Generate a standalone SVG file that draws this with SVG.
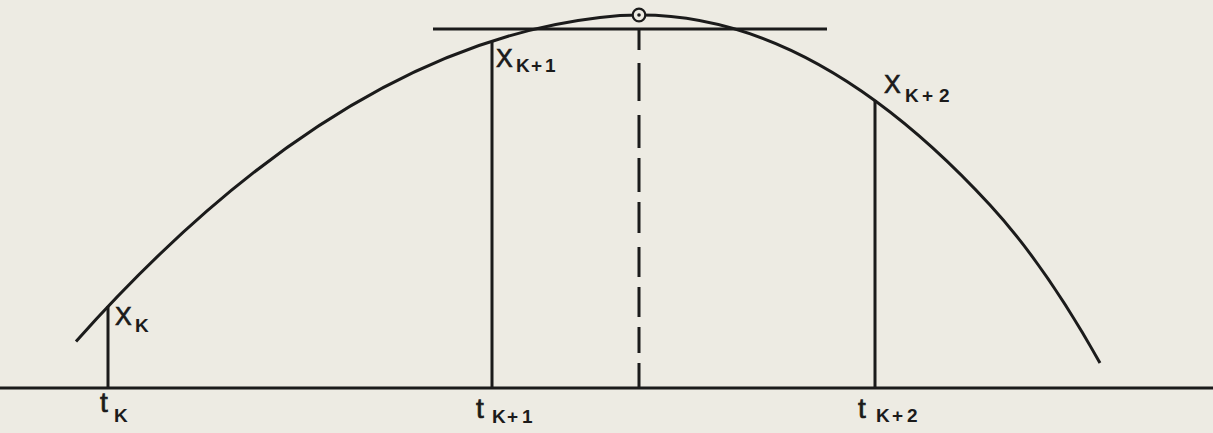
<svg xmlns="http://www.w3.org/2000/svg" width="1213" height="433" viewBox="0 0 1213 433">
<style>
.ln{stroke:#1b1b1b;stroke-width:3;fill:none;stroke-linecap:butt}
.big{font-family:"Liberation Sans",Arial,sans-serif;font-size:25px;fill:#1b1b1b;stroke:#1b1b1b;stroke-width:0.7}
.tt{font-family:"Liberation Sans",Arial,sans-serif;font-size:28px;fill:#1b1b1b;stroke:#1b1b1b;stroke-width:0.7}
.sub{font-family:"Liberation Sans",Arial,sans-serif;font-size:19px;fill:#1b1b1b;font-weight:bold}
</style>
<rect width="1213" height="433" fill="#edebe3"/>
<g id="axis"><line class="ln" x1="0" y1="388" x2="1213" y2="388" stroke-width="3.5"/></g>
<g id="curve"><path class="ln" d="M76,341.4 Q338,47.6 600,17.5 Q795,-6.7 990,205 Q1045,264.7 1100,363"/></g>
<g id="tangent"><line class="ln" x1="433" y1="29" x2="827" y2="29"/></g>
<g id="peak"><circle cx="639" cy="15" r="6.3" fill="#edebe3" stroke="#1b1b1b" stroke-width="2.2"/><circle cx="639" cy="15" r="1.8" fill="#1b1b1b"/></g>
<g id="connectors">
<line class="ln" x1="108" y1="306" x2="108" y2="388"/>
<line class="ln" x1="492" y1="41" x2="492" y2="388"/>
<line class="ln" x1="875" y1="100" x2="875" y2="388"/>
<path class="ln" d="M639,29V50M639,63V101M639,115V148M639,158V192M639,202V233M639,247V277M639,287V317M639,327V353M639,363V388"/>
</g>
<g id="label-xk"><text class="big" x="115" y="325">X</text><text class="sub" x="135" y="332">K</text></g>
<g id="label-xk1"><text class="big" x="496" y="67">X</text><text class="sub" x="516 531 545" y="72">K+1</text></g>
<g id="label-xk2"><text class="big" x="884" y="93">X</text><text class="sub" x="905 922 939" y="102">K+2</text></g>
<g id="label-tk"><text class="tt" x="100" y="412">t</text><text class="sub" x="114" y="422">K</text></g>
<g id="label-tk1"><text class="tt" x="476" y="418">t</text><text class="sub" x="492 507 522" y="423">K+1</text></g>
<g id="label-tk2"><text class="tt" x="858" y="418">t</text><text class="sub" x="876 892 907" y="422">K+2</text></g>
</svg>
